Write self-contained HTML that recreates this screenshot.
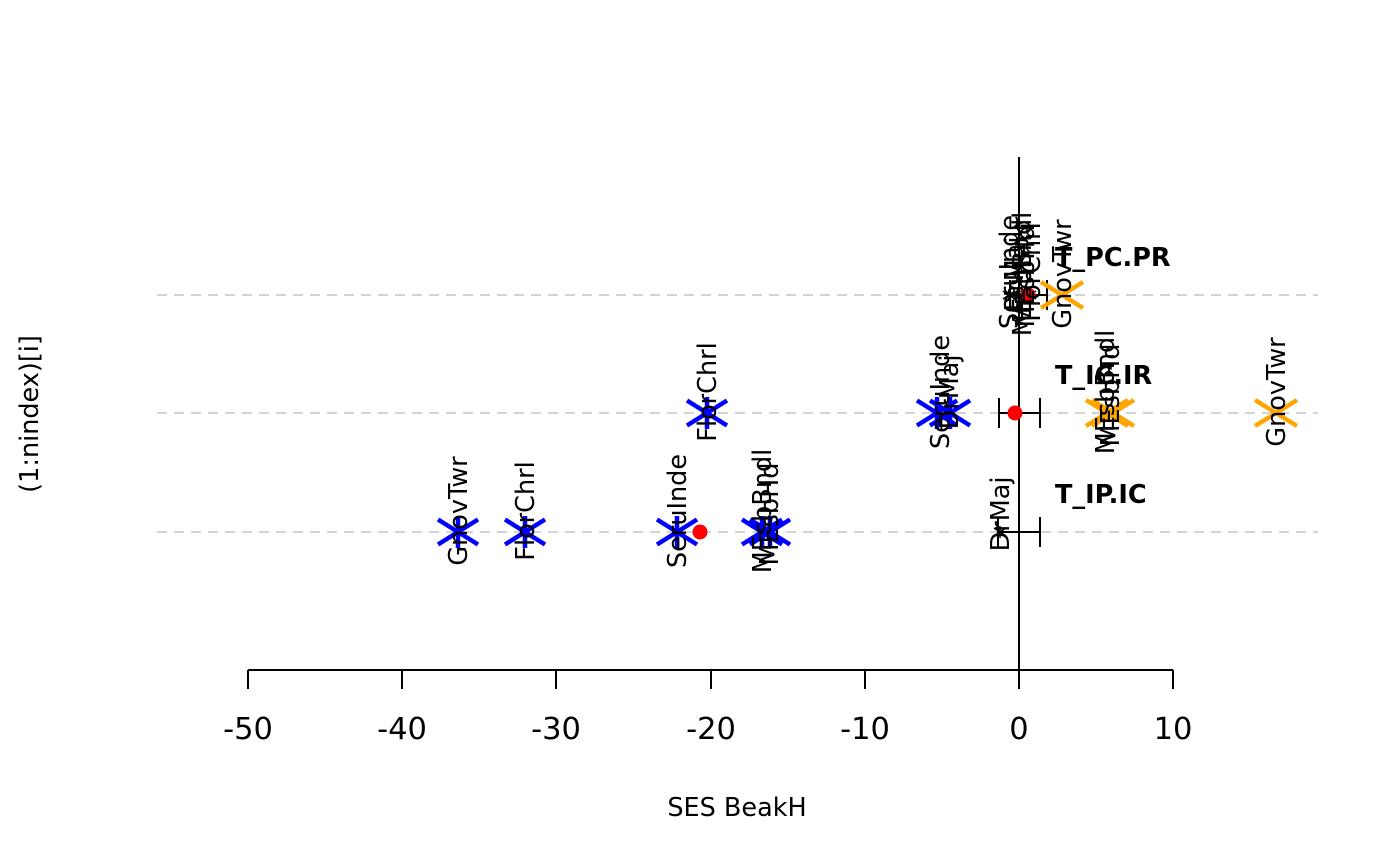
<!DOCTYPE html>
<html>
<head>
<meta charset="utf-8">
<style>
  html, body { margin: 0; padding: 0; background: #ffffff; }
  svg { display: block; }
  text { font-family: "DejaVu Sans", "Liberation Sans", sans-serif; fill: #000; }
</style>
</head>
<body>
<svg width="1400" height="866" viewBox="0 0 1400 866" xmlns="http://www.w3.org/2000/svg">
  <rect x="0" y="0" width="1400" height="866" fill="#ffffff"/>

  <!-- dashed row guides -->
  <g stroke="#d3d3d3" stroke-width="2" stroke-dasharray="10,7" fill="none">
    <line x1="157" y1="295" x2="1318" y2="295"/>
    <line x1="157" y1="413" x2="1318" y2="413"/>
    <line x1="157" y1="532" x2="1318" y2="532"/>
  </g>

  <!-- vertical zero line -->
  <line x1="1019" y1="157" x2="1019" y2="670" stroke="#000" stroke-width="2"/>

  <!-- x axis -->
  <g stroke="#000" stroke-width="2" fill="none">
    <line x1="248" y1="670" x2="1173" y2="670"/>
    <line x1="248" y1="670" x2="248" y2="689"/>
    <line x1="402" y1="670" x2="402" y2="689"/>
    <line x1="556" y1="670" x2="556" y2="689"/>
    <line x1="711" y1="670" x2="711" y2="689"/>
    <line x1="865" y1="670" x2="865" y2="689"/>
    <line x1="1019" y1="670" x2="1019" y2="689"/>
    <line x1="1173" y1="670" x2="1173" y2="689"/>
  </g>
  <g font-size="30.5" text-anchor="middle">
    <text x="248" y="739">-50</text>
    <text x="402" y="739">-40</text>
    <text x="556" y="739">-30</text>
    <text x="711" y="739">-20</text>
    <text x="865" y="739">-10</text>
    <text x="1019" y="739">0</text>
    <text x="1173" y="739">10</text>
  </g>

  <!-- axis titles -->
  <text x="737" y="816" font-size="25.5" text-anchor="middle">SES BeakH</text>
  <text transform="translate(38,414) rotate(-90)" font-size="25.5" text-anchor="middle">(1:nindex)[i]</text>

  <!-- error bars -->
  <g stroke="#000" stroke-width="2" fill="none">
    <line x1="998" y1="532" x2="1040" y2="532"/>
    <line x1="998" y1="517" x2="998" y2="547"/>
    <line x1="1040" y1="517" x2="1040" y2="547"/>
    <line x1="999" y1="413" x2="1040" y2="413"/>
    <line x1="999" y1="398" x2="999" y2="428"/>
    <line x1="1040" y1="398" x2="1040" y2="428"/>
    <line x1="1010" y1="295" x2="1047" y2="295"/>
    <line x1="1010" y1="280" x2="1010" y2="310"/>
    <line x1="1047" y1="280" x2="1047" y2="310"/>
  </g>

  <!-- blue asterisks -->
  <g stroke="#0000ff" stroke-width="4.5" fill="none">
    <path d="M438,519.5 L478,544.5 M438,544.5 L478,519.5 M458,516 L458,548"/>
    <path d="M505,519.5 L545,544.5 M505,544.5 L545,519.5 M525,516 L525,548"/>
    <path d="M657,519.5 L697,544.5 M657,544.5 L697,519.5 M677,516 L677,548"/>
    <path d="M742,519.5 L782,544.5 M742,544.5 L782,519.5 M762,516 L762,548"/>
    <path d="M750,519.5 L790,544.5 M750,544.5 L790,519.5 M770,516 L770,548"/>
    <path d="M687,400.5 L727,425.5 M687,425.5 L727,400.5 M707,397 L707,429"/>
    <path d="M917,400.5 L957,425.5 M917,425.5 L957,400.5 M937,397 L937,429"/>
    <path d="M930,400.5 L970,425.5 M930,425.5 L970,400.5 M950,397 L950,429"/>
  </g>

  <!-- orange X markers -->
  <g stroke="#ffa500" stroke-width="4.5" fill="none">
    <path d="M1086,400 L1128,426 M1086,426 L1128,400"/>
    <path d="M1092,400 L1134,426 M1092,426 L1134,400"/>
    <path d="M1255,400 L1297,426 M1255,426 L1297,400"/>
    <path d="M1041,282 L1083,308 M1041,308 L1083,282"/>
  </g>

  <!-- small black asterisks -->
  <g stroke="#000" stroke-width="1.5" fill="none">
    <path d="M994,528 L1006,536 M994,536 L1006,528 M1000,526 L1000,538"/>
    <path d="M1003,291 L1015,299 M1003,299 L1015,291 M1009,289 L1009,301"/>
    <path d="M1008,291 L1020,299 M1008,299 L1020,291 M1014,289 L1014,301"/>
    <path d="M1016,291 L1028,299 M1016,299 L1028,291 M1022,289 L1022,301"/>
    <path d="M1020,291 L1032,299 M1020,299 L1032,291 M1026,289 L1026,301"/>
    <path d="M1024,291 L1036,299 M1024,299 L1036,291 M1030,289 L1030,301"/>
  </g>

  <!-- red means -->
  <g fill="#ff0000">
    <circle cx="700" cy="532" r="7.5"/>
    <circle cx="1015" cy="413" r="7.5"/>
    <circle cx="1028" cy="295" r="7.5"/>
  </g>

  <!-- point labels -->
  <g font-size="25.5" text-anchor="middle">
    <text transform="translate(467,511) rotate(-90)">GnovTwr</text>
    <text transform="translate(534,511) rotate(-90)">FlorChrl</text>
    <text transform="translate(686,511) rotate(-90)">SeruInde</text>
    <text transform="translate(771,511) rotate(-90)">MEsbBndl</text>
    <text transform="translate(778,514) rotate(-90)">MEsbHd</text>
    <text transform="translate(1009,514) rotate(-90)">DrMaj</text>
    <text transform="translate(716,392) rotate(-90)">FlorChrl</text>
    <text transform="translate(949,392) rotate(-90)">SeruInde</text>
    <text transform="translate(958,392) rotate(-90)">DrMaj</text>
    <text transform="translate(1114,392) rotate(-90)">MEsbBndl</text>
    <text transform="translate(1119,395) rotate(-90)">MEsbHd</text>
    <text transform="translate(1285,392) rotate(-90)">GnovTwr</text>
    <text transform="translate(1018,272) rotate(-90)">SeruInde</text>
    <text transform="translate(1023,274) rotate(-90)">DrMaj</text>
    <text transform="translate(1031,274) rotate(-90)">MEsbBndl</text>
    <text transform="translate(1034,276) rotate(-90)">MEsbHd</text>
    <text transform="translate(1040,272) rotate(-90)">FlorChrl</text>
    <text transform="translate(1071,274) rotate(-90)">GnovTwr</text>
  </g>

  <!-- row titles -->
  <g font-size="25.5" font-weight="bold">
    <text x="1055" y="266">T_PC.PR</text>
    <text x="1055" y="384">T_IC.IR</text>
    <text x="1055" y="503">T_IP.IC</text>
  </g>
</svg>
</body>
</html>
